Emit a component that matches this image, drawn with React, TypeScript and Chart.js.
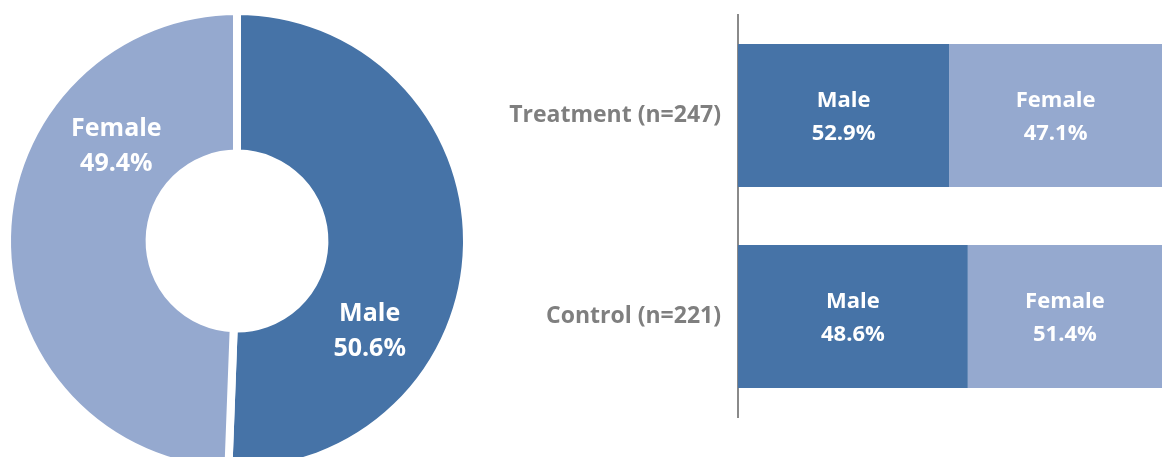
import React, { useEffect, useRef } from "react";
import { Chart, registerables } from "chart.js";

Chart.register(...registerables);

// ---- data ----
const overallLabels = ["Male", "Female"];
const overallValues = [50.6, 49.4];

const groupLabels = ["Treatment (n=247)", "Control (n=221)"];
const maleShareText = ["52.9%", "48.6%"];
const femaleShareText = ["47.1%", "51.4%"];
// segment lengths as drawn in the picture
const maleBarLength = [49.8, 54.2];
const femaleBarLength = [50.2, 45.8];

// ---- style ----
const DARK = "#4673A7";
const LIGHT = "#95A9CF";
const FONT = "'Open Sans', sans-serif";

function drawTwoLines(
  ctx: CanvasRenderingContext2D,
  lines: string[],
  cx: number,
  cy: number,
  size: number,
  gap: number
) {
  ctx.save();
  ctx.fillStyle = "#ffffff";
  ctx.font = `bold ${size}px ${FONT}`;
  ctx.textAlign = "center";
  ctx.textBaseline = "alphabetic";
  const cap = size * 0.357;
  ctx.fillText(lines[0], cx, cy - gap / 2 + cap);
  ctx.fillText(lines[1], cx, cy + gap / 2 + cap);
  ctx.restore();
}

const ringLabelPlugin = {
  id: "ringLabels",
  afterDatasetsDraw(chart: any) {
    const ctx = chart.ctx;
    const meta = chart.getDatasetMeta(0);
    const shift = (35 * Math.PI) / 180;
    meta.data.forEach((arc: any, i: number) => {
      const p = arc.getProps(
        ["x", "y", "startAngle", "endAngle", "innerRadius", "outerRadius"],
        true
      );
      const a = (p.startAngle + p.endAngle) / 2 + shift;
      const r = (p.innerRadius + p.outerRadius) / 2 - 2;
      drawTwoLines(
        ctx,
        [overallLabels[i], overallValues[i].toFixed(1) + "%"],
        p.x + Math.cos(a) * r + 6,
        p.y + Math.sin(a) * r - 4,
        25,
        35
      );
    });
  },
};

const barLabelPlugin = {
  id: "barLabels",
  afterDatasetsDraw(chart: any) {
    const ctx = chart.ctx;
    chart.data.datasets.forEach((ds: any, di: number) => {
      const meta = chart.getDatasetMeta(di);
      const texts = di === 0 ? maleShareText : femaleShareText;
      meta.data.forEach((bar: any, i: number) => {
        const p = bar.getProps(["x", "y", "base"], true);
        drawTwoLines(ctx, [ds.label, texts[i]], (p.x + p.base) / 2, p.y, 22, 33);
      });
    });
  },
};

export default function App() {
  const ringRef = useRef<HTMLCanvasElement>(null);
  const barRef = useRef<HTMLCanvasElement>(null);

  useEffect(() => {
    const ring = new Chart(ringRef.current!, {
      type: "doughnut",
      data: {
        labels: overallLabels,
        datasets: [
          {
            data: overallValues,
            backgroundColor: [DARK, LIGHT],
            borderColor: "#ffffff",
            borderWidth: 8,
          },
        ],
      },
      options: {
        responsive: false,
        animation: false,
        radius: 230,
        cutout: "38%",
        plugins: { legend: { display: false }, tooltip: { enabled: false } },
      },
      plugins: [ringLabelPlugin],
    });

    const bars = new Chart(barRef.current!, {
      type: "bar",
      data: {
        labels: groupLabels,
        datasets: [
          {
            label: "Male",
            data: maleBarLength,
            backgroundColor: DARK,
            barPercentage: 0.711,
            categoryPercentage: 1,
          },
          {
            label: "Female",
            data: femaleBarLength,
            backgroundColor: LIGHT,
            barPercentage: 0.711,
            categoryPercentage: 1,
          },
        ],
      },
      options: {
        indexAxis: "y",
        responsive: false,
        animation: false,
        layout: { padding: { top: 15, bottom: 40, left: 0, right: 0 } },
        scales: {
          x: { stacked: true, min: 0, max: 100, display: false },
          y: {
            stacked: true,
            grid: { display: false, drawTicks: false },
            border: { display: true, color: "#8a8a8a", width: 2 },
            ticks: {
              color: "#7f7f7f",
              padding: 17,
              font: { family: FONT, size: 23, weight: "bold" },
            },
            afterFit(scale: any) {
              scale.width = 268;
              scale.paddingTop = 0;
              scale.paddingBottom = 0;
            },
          },
        },
        plugins: { legend: { display: false }, tooltip: { enabled: false } },
      },
      plugins: [barLabelPlugin],
    });

    return () => {
      ring.destroy();
      bars.destroy();
    };
  }, []);

  return (
    <div
      style={{
        position: "absolute",
        left: 0,
        top: 0,
        width: 1162,
        height: 457,
        overflow: "hidden",
        background: "#ffffff",
      }}
    >
      <canvas
        ref={ringRef}
        width={474}
        height={482}
        style={{ position: "absolute", left: 0, top: 0, display: "block" }}
      />
      <canvas
        ref={barRef}
        width={692}
        height={457}
        style={{ position: "absolute", left: 470, top: 0, display: "block" }}
      />
    </div>
  );
}
